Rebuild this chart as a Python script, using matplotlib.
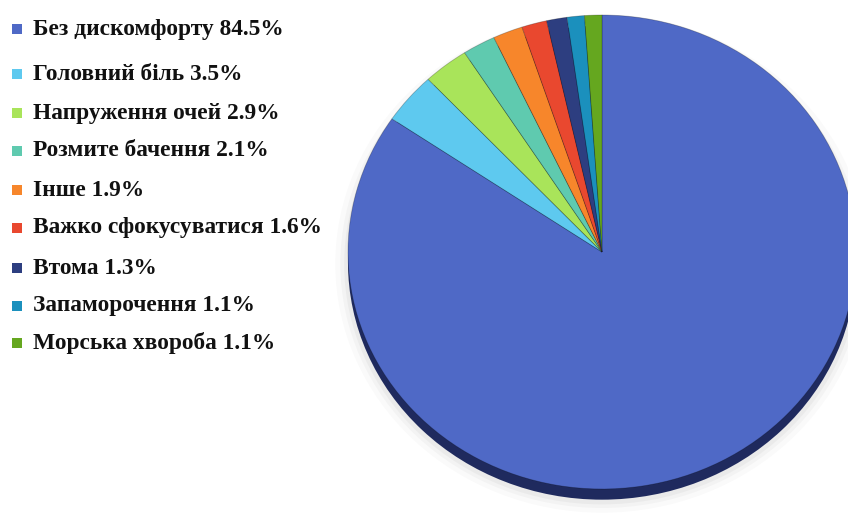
import matplotlib
matplotlib.use('Agg')
import matplotlib.pyplot as plt
from matplotlib.patches import Ellipse, Rectangle

# ── Data ──────────────────────────────────────────────────────────────────────
labels = ['Без дискомфорту', 'Головний біль', 'Напруження очей', 'Розмите бачення',
          'Інше', 'Важко сфокусуватися', 'Втома', 'Запаморочення', 'Морська хвороба']
values = [84.5, 3.5, 2.9, 2.1, 1.9, 1.6, 1.3, 1.1, 1.1]
colors = ['#4f69c6', '#5ec9ef', '#a9e45a', '#5fcaaf', '#f7862b',
          '#e9482f', '#2d3e80', '#1b90bd', '#65a71f']

W, H = 848, 515
fig = plt.figure(figsize=(W / 100, H / 100), dpi=100)
fig.patch.set_facecolor('white')

# ── Legend (pixel coordinates overlay) ───────────────────────────────────────
lax = fig.add_axes([0, 0, 1, 1])
lax.set_xlim(0, W); lax.set_ylim(H, 0); lax.axis('off')
row_y = [29, 74, 113, 151, 190, 228, 268, 306, 343]
for lbl, v, c, y in zip(labels, values, colors, row_y):
    lax.add_patch(Rectangle((12, y - 5), 10, 10, facecolor=c, edgecolor='none'))
    lax.text(33, y, f'{lbl} {v:.1f}%', fontsize=16.8, fontweight='bold',
             family='Liberation Serif', color='#111', va='center', ha='left')

# ── Pie ──────────────────────────────────────────────────────────────────────
cx, cy, rx, ry = 602, 252, 254, 237
pax = fig.add_axes([(cx - rx) / W, (H - cy - ry) / H, 2 * rx / W, 2 * ry / H])
pax.axis('off')

# soft shadow + dark rim for the 3D look
for k, a in [(0.05, 0.04), (0.03, 0.06), (0.015, 0.08)]:
    pax.add_patch(Ellipse((0.0, -0.05), 2 + k * 2, 2 + k * 2, facecolor='#888',
                          edgecolor='none', alpha=a, zorder=0, clip_on=False))
pax.add_patch(Ellipse((0.0, -0.045), 2, 2, facecolor='#1f2a5e', edgecolor='none',
                      zorder=1, clip_on=False))

wedges, _ = pax.pie(values, colors=colors, startangle=90, counterclock=False,
                    radius=1, wedgeprops=dict(edgecolor='#00000040', linewidth=0.6))
for w in wedges:
    w.set_zorder(2)
    w.set_clip_on(False)
pax.set_xlim(-1, 1); pax.set_ylim(-1, 1)
pax.set_aspect('auto')

fig.savefig('out.png', dpi=100, facecolor='white')
